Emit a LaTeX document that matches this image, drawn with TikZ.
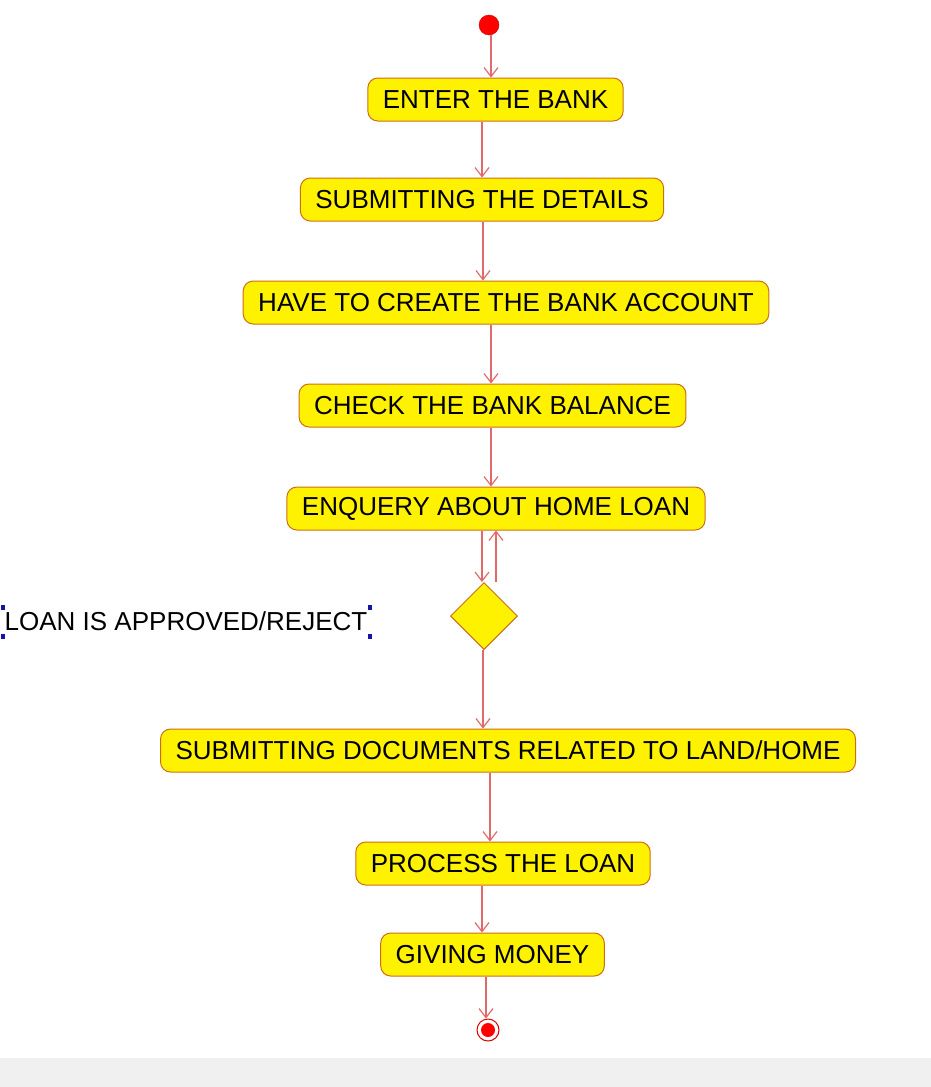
\documentclass[tikz,border=0pt]{standalone}
\usepackage{fontspec}
\setmainfont{Liberation Sans}
\usetikzlibrary{shapes.geometric,arrows.meta}
\definecolor{boxline}{RGB}{204,110,20}
\definecolor{flowline}{RGB}{225,105,105}
\definecolor{handle}{RGB}{20,20,170}
\definecolor{band}{RGB}{240,240,240}
\newcommand*{\ActivityBoxes}[1]{% #1 = list of name/x/y/text
  \foreach \name/\x/\y/\text in {#1} {
    \node [activity] (\name) at (\x,\y) {\text};
    }%
}
\newcommand*{\FlowArrows}[1]{% #1 = list of from/to/x
  \foreach \from/\to/\x in {#1} {
    \draw [flow] (\from.south -| \x,0) -- (\to.north -| \x,0);
    }%
}
\tikzset{
  activity/.style={rounded corners=10pt, fill=yellow, draw=boxline, line width=1pt,
    minimum height=43pt, inner xsep=15pt, font=\fontsize{26}{30}\selectfont},
  flow/.style={draw=flowline, line width=1.2pt, -{Straight Barb[length=9pt,width=14pt]}},
}

\begin{document}
\begin{tikzpicture}[x=1pt,y=-1pt]
    \useasboundingbox (0,0) rectangle (931,1087);
    \fill [band] (0,1058) rectangle (931,1087);

    \node [circle, fill=red, draw=red!80!black, minimum size=20pt, inner sep=0pt] (start) at (489,25) {};

    \ActivityBoxes{
        enter/495.5/99.5/ENTER THE BANK,
        details/482/199.5/SUBMITTING THE DETAILS,
        account/506/302.5/HAVE TO CREATE THE BANK ACCOUNT,
        balance/492.5/405.5/CHECK THE BANK BALANCE,
        enquiry/496/508.5/ENQUERY ABOUT HOME LOAN,
        documents/508/750.5/{SUBMITTING DOCUMENTS RELATED TO LAND/HOME},
        process/503/863.5/PROCESS THE LOAN,
        money/492.5/954.5/GIVING MONEY
    }

    \node [diamond, fill=yellow, draw=boxline, line width=1pt, minimum width=67pt,
      minimum height=67pt, inner sep=0pt] (decision) at (484,616) {};

    \node [circle, fill=white, draw=red!85!black, line width=1pt, minimum size=22pt,
      inner sep=0pt] (end) at (488,1030) {};
    \node [circle, fill=red, minimum size=14pt, inner sep=0pt] (endcore) at (end) {};

    % guard label with its selection handles
    \node [font=\fontsize{26}{30}\selectfont, inner sep=0pt] (guard) at (186,621) {LOAN IS APPROVED/REJECT};
    \foreach \x/\y in {3/607,3/636,370/607,370/636}
      \fill [handle] (\x-2,\y-2.5) rectangle (\x+2,\y+2.5);

    \FlowArrows{
        start/enter/491,
        enter/details/482,
        details/account/483,
        account/balance/491,
        balance/enquiry/491,
        enquiry/decision/482,
        decision/documents/483,
        documents/process/490,
        process/money/482,
        money/end/486
    }
    \draw [flow] (decision.north -| 496,0) -- (enquiry.south -| 496,0);
\end{tikzpicture}
\end{document}
